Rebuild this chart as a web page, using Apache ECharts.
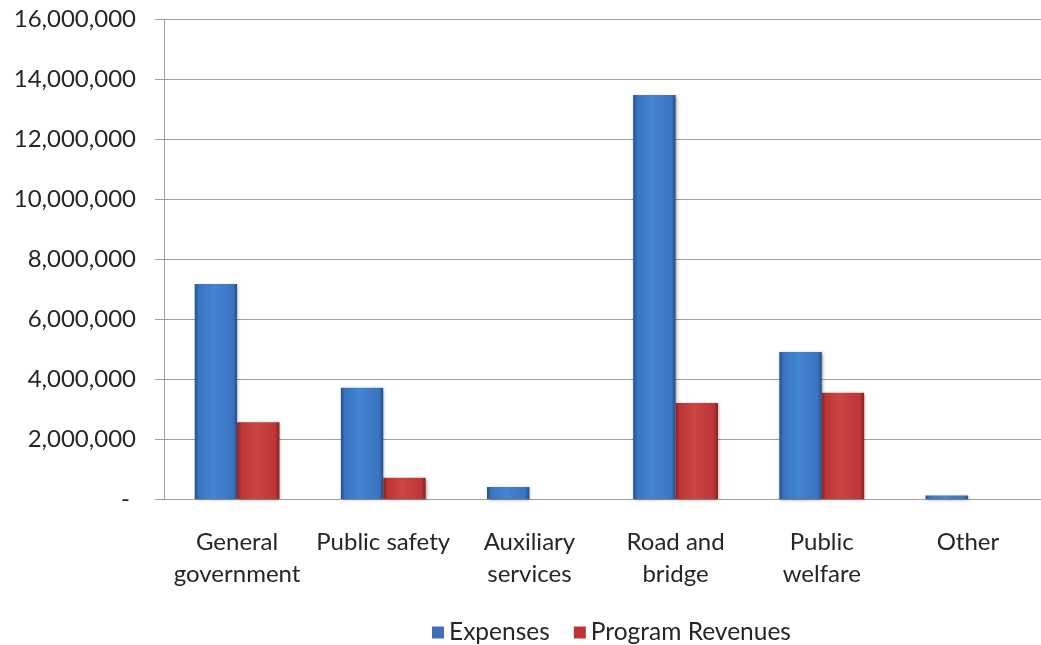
<!DOCTYPE html>
<html><head><meta charset="utf-8">
<script src="https://cdn.jsdelivr.net/npm/echarts@6/dist/echarts.min.js"></script>
<style>html,body{margin:0;padding:0;background:#fff}#c{width:1041px;height:645px}</style>
</head><body><div id="c"></div>
<script>
const categories = ['General\ngovernment', 'Public safety', 'Auxiliary\nservices', 'Road and\nbridge', 'Public\nwelfare', 'Other'];
const expenses = [7170000, 3710000, 400000, 13470000, 4900000, 120000];
const programRevenues = [2560000, 710000, 0, 3200000, 3540000, 0];
const yTicks = { min: 0, max: 16000000, interval: 2000000 };

const FONT = 'Lato';
function grad(edge, mid, hi) {
  return new echarts.graphic.LinearGradient(0, 0, 1, 0, [
    { offset: 0, color: edge }, { offset: 0.1, color: mid }, { offset: 0.45, color: hi },
    { offset: 0.9, color: mid }, { offset: 1, color: edge }
  ]);
}
const blue = grad('#24508c', '#3a74c0', '#4384d4');
const red = grad('#862222', '#bd3636', '#cc4444');

const chart = echarts.init(document.getElementById('c'));
chart.setOption({
  animation: false,
  grid: { left: 164, right: -5, top: 19, bottom: 146 },
  legend: {
    left: 427, top: 615, icon: 'rect', itemWidth: 12, itemHeight: 12, itemGap: 24,
    textStyle: { fontFamily: FONT, fontSize: 24.5, color: '#262626' },
    data: [{ name: 'Expenses', itemStyle: { color: '#3b6fb8' } }, { name: 'Program Revenues', itemStyle: { color: '#c03434' } }]
  },
  xAxis: {
    type: 'category', data: categories,
    axisLine: { lineStyle: { color: '#a0a0a0', width: 1 } },
    axisTick: { length: 10, lineStyle: { color: '#a0a0a0' } },
    axisLabel: { fontFamily: FONT, fontSize: 24, color: '#262626', margin: 27, lineHeight: 32, interval: 0 }
  },
  yAxis: {
    type: 'value', min: yTicks.min, max: yTicks.max, interval: yTicks.interval,
    axisLine: { show: true, lineStyle: { color: '#a0a0a0' } },
    axisTick: { show: true, length: 9, lineStyle: { color: '#a0a0a0' } },
    splitLine: { lineStyle: { color: '#a0a0a0' } },
    axisLabel: {
      fontFamily: FONT, fontSize: 24, color: '#262626', margin: 28,
      formatter: v => v === 0 ? '- ' : v.toLocaleString('en-US')
    }
  },
  series: [
    { name: 'Expenses', type: 'bar', data: expenses, barGap: '0%', barCategoryGap: '42%',
      itemStyle: { color: blue, shadowBlur: 3, shadowColor: 'rgba(0,0,0,0.35)', shadowOffsetX: 1, shadowOffsetY: 1 } },
    { name: 'Program Revenues', type: 'bar', data: programRevenues,
      itemStyle: { color: red, shadowBlur: 3, shadowColor: 'rgba(0,0,0,0.35)', shadowOffsetX: 1, shadowOffsetY: 1 } }
  ]
});
</script></body></html>
